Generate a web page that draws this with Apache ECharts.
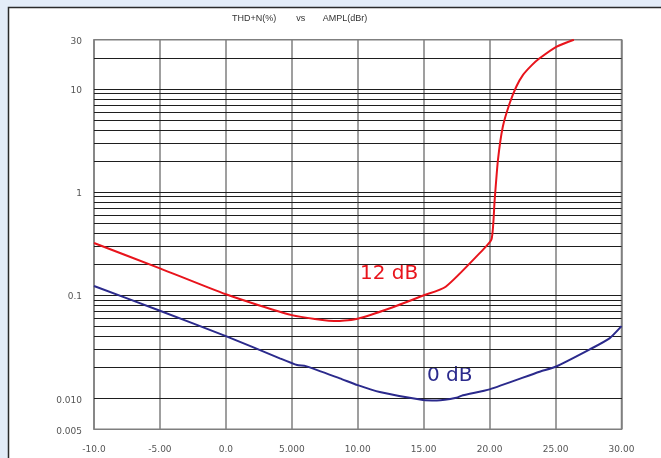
<!DOCTYPE html>
<html>
<head>
<meta charset="utf-8">
<script src="https://cdn.jsdelivr.net/npm/echarts@6/dist/echarts.min.js"></script>
<style>
html,body{margin:0;padding:0;background:#e3ecf8;}
#chart{width:661px;height:458px;}
</style>
</head>
<body>
<div id="chart"></div>
<script>
// Data
const redX =   [-10, -5, 0, 5, 8.5, 10, 12.5, 14.92, 16.67, 19.47, 20.15, 20.38, 20.63, 21.0, 21.52, 22.02, 22.52, 23.2, 23.79, 25.05, 26.39];
const redY =   [0.32, 0.182, 0.102, 0.064, 0.056, 0.059, 0.075, 0.0986, 0.1206, 0.2735, 0.35, 0.83, 2.04, 4.3, 7.25, 10.5, 13.6, 17.0, 19.8, 25.6, 30];
const blueX =  [-10, -5, 0, 4.09, 5.4, 6.06, 8.64, 10, 11.67, 14.95, 16.0, 17.48, 17.98, 20.0, 23.79, 25, 27.6, 29.09, 30];
const blueY =  [0.1225, 0.0706, 0.0401, 0.0244, 0.021, 0.0205, 0.0156, 0.0134, 0.0115, 0.0096, 0.0095, 0.0101, 0.0107, 0.0122, 0.0181, 0.0202, 0.0298, 0.0381, 0.05];
const xTickValues = [-10, -5, 0, 5, 10, 15, 20, 25, 30];
const xTickLabels = ['-10.0', '-5.00', '0.0', '5.000', '10.00', '15.00', '20.00', '25.00', '30.00'];
const yTickValues = [0.005, 0.01, 0.1, 1, 10, 30];
const yTickLabels = ['0.005', '0.010', '0.1', '1', '10', '30'];
const gridDecades = [0.001, 0.01, 0.1, 1, 10];
const gridMultipliers = [1, 2, 3, 4, 5, 6, 7, 8, 9];
const yMin = 0.005, yMax = 30;

const gridLineValues = [];
gridDecades.forEach(d => gridMultipliers.forEach(m => {
  const v = +(d * m).toPrecision(3);
  if (v > yMin * 1.0001 && v < yMax * 0.9999) gridLineValues.push(v);
}));

const chart = echarts.init(document.getElementById('chart'), null, {renderer: 'canvas'});
const labelFont = '"DejaVu Sans", "Liberation Sans", Arial, sans-serif';
const titleFont = '"Liberation Sans Narrow", "Liberation Sans", Arial, sans-serif';

function nearestLabel(v, vals, labels, log) {
  let best = 0, bd = Infinity;
  vals.forEach((t, i) => {
    const d = log ? Math.abs(Math.log10(v) - Math.log10(t)) : Math.abs(v - t);
    if (d < bd) { bd = d; best = i; }
  });
  return bd < (log ? 0.02 : 0.01) ? labels[best] : '';
}

chart.setOption({
  backgroundColor: '#e3ecf8',
  animation: false,
  graphic: [
    {type: 'rect', z: -10, shape: {x: 8.5, y: 7.5, width: 700, height: 500},
     style: {fill: '#ffffff', stroke: '#2a2a2a', lineWidth: 1.5}},
    {type: 'text', left: 232, top: 14,
     style: {text: 'THD+N(%)        vs       AMPL(dBr)', font: '9px ' + titleFont, fill: '#333'}},
    {type: 'text', left: 360, top: 264,
     style: {text: '12 dB', font: '20px "DejaVu Sans", sans-serif', fill: '#e8141c'}},
    {type: 'text', left: 427, top: 366,
     style: {text: '0 dB', font: '20px "DejaVu Sans", sans-serif', fill: '#2b2a8c'}}
  ],
  grid: {left: 94, right: 39.5, top: 39.7, bottom: 28.7, show: true,
         borderColor: '#7f7f7f', borderWidth: 1.5, backgroundColor: 'transparent'},
  xAxis: {
    type: 'value', min: -10, max: 30, interval: 5,
    axisLine: {show: false}, axisTick: {show: false},
    splitLine: {show: true, lineStyle: {color: '#7f7f7f', width: 1.5}},
    axisLabel: {margin: 16, fontSize: 9, color: '#555', fontFamily: labelFont,
      formatter: v => nearestLabel(v, xTickValues, xTickLabels, false)}
  },
  yAxis: {
    type: 'log', min: yMin, max: yMax, logBase: 10,
    axisLine: {show: false}, axisTick: {show: false},
    splitLine: {show: false},
    axisLabel: {margin: 12, fontSize: 9, color: '#555', fontFamily: labelFont,
      verticalAlign: 'top', lineHeight: 10, padding: [-3, 0, 0, 0],
      showMinLabel: true, showMaxLabel: true,
      formatter: v => nearestLabel(v, yTickValues, yTickLabels, true)}
  },
  series: [
    {type: 'line', data: [], z: 1, silent: true,
     markLine: {silent: true, symbol: ['none', 'none'], label: {show: false},
       lineStyle: {color: '#1e1e1e', width: 1, type: 'solid'},
       data: gridLineValues.map(v => ({yAxis: v}))}},
    {type: 'line', name: '12 dB', z: 5, symbol: 'none', smooth: 0.2,
     lineStyle: {color: '#e8141c', width: 2}, itemStyle: {color: '#e8141c'},
     data: redX.map((x, i) => [x, redY[i]])},
    {type: 'line', name: '0 dB', z: 5, symbol: 'none', smooth: 0.2,
     lineStyle: {color: '#2b2a8c', width: 2}, itemStyle: {color: '#2b2a8c'},
     data: blueX.map((x, i) => [x, blueY[i]])}
  ]
});
</script>
</body>
</html>
